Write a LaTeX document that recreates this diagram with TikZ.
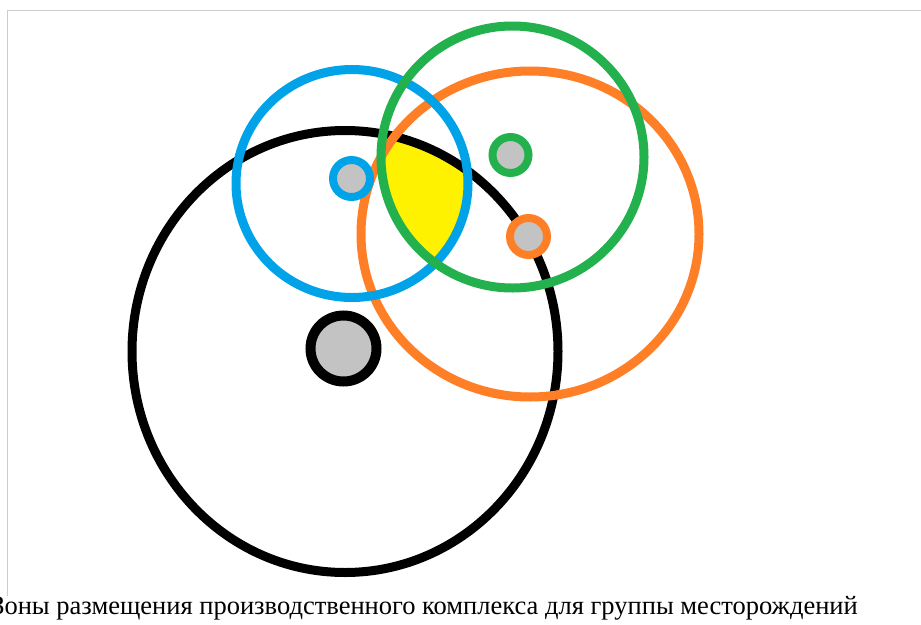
\documentclass[tikz,border=0pt]{standalone}
\usepackage{fontspec}
\setmainfont{Liberation Serif}
\definecolor{pblue}{HTML}{00A2E8}
\definecolor{pgreen}{HTML}{22B14C}
\definecolor{porange}{HTML}{FF7F27}
\definecolor{pgray}{HTML}{C3C3C3}
\definecolor{pyellow}{HTML}{FFF200}
\definecolor{pframe}{HTML}{CCCCCC}
\tikzset{
  zone/.style={line width=9pt},
  site/.style={line width=8pt, fill=pgray},
  bigsite/.style={line width=10pt, fill=pgray}
}
\begin{document}
\begin{tikzpicture}[x=1pt,y=-1pt]
\useasboundingbox (0,0) rectangle (921,624);
\clip (0,0) rectangle (921,624);
\draw[pframe, line width=1.5pt] (7.5,596) -- (7.5,10.5) -- (930,10.5);
% yellow intersection
\begin{scope}
  \clip (345,351.5) ellipse [x radius=213, y radius=221];
  \clip (352,183.5) ellipse [x radius=116, y radius=114];
  \clip (512.5,157) ellipse [x radius=131.5, y radius=131];
  \clip (530,234) ellipse [x radius=169, y radius=163];
  \fill[pyellow] (0,0) rectangle (921,624);
\end{scope}
% zones
\draw[zone, draw=black] (345,351.5) ellipse [x radius=213, y radius=221];
\draw[zone, draw=porange] (530,234) ellipse [x radius=169, y radius=163];
\draw[zone, draw=pblue] (352,183.5) ellipse [x radius=116, y radius=114];
\draw[zone, draw=pgreen] (512.5,157) ellipse [x radius=131.5, y radius=131];
% deposits / sites
\draw[bigsite, draw=black] (343.5,348.5) circle [radius=33];
\draw[site, draw=pblue] (351.5,178.5) circle [radius=18.5];
\draw[site, draw=pgreen] (510.5,155) circle [radius=18];
\draw[site, draw=porange] (528.5,236.5) circle [radius=18.5];
\node[anchor=base east, inner sep=0pt, font=\fontsize{26.5}{26.5}\selectfont] (caption) at (858,614) {Зоны размещения производственного комплекса для группы месторождений};
\end{tikzpicture}
\end{document}
